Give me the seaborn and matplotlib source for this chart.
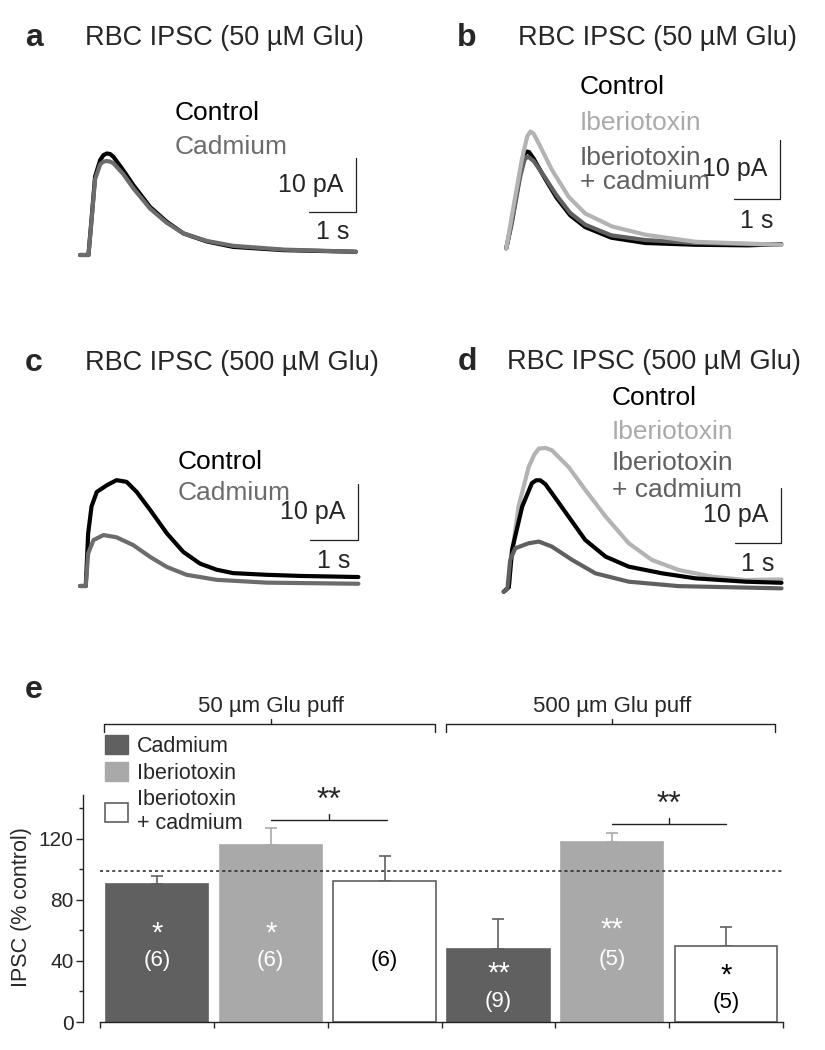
import numpy as np
import pandas as pd
import matplotlib.pyplot as plt
import seaborn as sns
from matplotlib.patches import Patch

sns.set_theme(style="white")
plt.rcParams["font.family"] = ["Liberation Sans", "DejaVu Sans"]

# traces (time in s, current in pA)
t_a = [0, 0.18, 0.25, 0.32, 0.43, 0.5, 0.57, 0.64, 0.71, 0.92, 1.13, 1.49, 1.84, 2.2, 2.7, 3.26, 4.33, 5.87]
a_control = [0, 0, 7.1, 14.5, 17.6, 18.5, 18.8, 18.7, 18.2, 15.7, 13.0, 8.9, 6.2, 4.0, 2.5, 1.5, 0.9, 0.6]
a_cadmium = [0, 0, 6.8, 14.0, 16.8, 17.3, 17.4, 17.3, 17.0, 15.0, 12.4, 8.6, 6.0, 4.0, 2.6, 1.7, 1.0, 0.6]

t_b = [0, 0.12, 0.3, 0.4, 0.45, 0.5, 0.6, 0.85, 1.1, 1.4, 1.73, 2.3, 3.05, 4.15, 5.3, 6.03]
b_control = [0, 4.5, 12.5, 15.9, 16.4, 16.3, 15.2, 11.8, 8.6, 5.6, 3.6, 1.8, 0.9, 0.6, 0.5, 0.7]
b_ibtx_cd = [0, 4.2, 12.0, 15.0, 15.5, 15.4, 14.8, 12.0, 9.0, 6.0, 4.0, 2.2, 1.4, 0.9, 0.7, 0.6]
t_b_ibtx = [0, 0.12, 0.34, 0.46, 0.53, 0.6, 0.71, 1.0, 1.37, 1.73, 2.32, 3.05, 4.15, 6.03]
b_ibtx = [0, 5.4, 15.0, 19.0, 19.8, 19.4, 17.8, 13.3, 8.7, 5.9, 3.7, 2.3, 1.1, 0.6]

t_c_control = [0, 0.12, 0.17, 0.24, 0.35, 0.56, 0.76, 0.97, 1.18, 1.46, 1.81, 2.15, 2.5, 2.85, 3.19, 3.89, 4.58, 5.8]
c_control = [0, 0, 9.4, 14.2, 16.8, 18.0, 18.9, 18.6, 16.8, 13.6, 9.4, 6.1, 4.0, 2.9, 2.3, 2.0, 1.8, 1.6]
t_c_cd = [0, 0.12, 0.17, 0.28, 0.49, 0.76, 1.11, 1.46, 1.81, 2.22, 2.85, 3.89, 5.8]
c_cadmium = [0, 0, 5.8, 8.2, 9.1, 8.7, 7.3, 5.2, 3.4, 2.0, 1.1, 0.6, 0.4]

t_d_ibtx = [0, 0.11, 0.18, 0.32, 0.54, 0.66, 0.76, 0.9, 1.04, 1.40, 1.76, 2.2, 2.7, 3.2, 3.78, 4.5, 5.22, 6.0]
d_ibtx = [0, 0.8, 6.9, 15.3, 22.4, 24.6, 25.7, 25.8, 25.4, 22.4, 18.3, 13.5, 8.7, 5.7, 3.9, 2.7, 2.1, 2.2]
t_d_control = [0, 0.11, 0.18, 0.4, 0.61, 0.7, 0.79, 0.9, 1.04, 1.40, 1.76, 2.2, 2.7, 3.42, 4.14, 5.22, 6.0]
d_control = [0, 0.8, 7.5, 15.3, 19.5, 20.0, 20.0, 19.3, 17.7, 13.5, 9.3, 6.3, 4.5, 3.3, 2.4, 1.8, 1.6]
t_d_cd = [0, 0.08, 0.14, 0.25, 0.54, 0.76, 1.04, 1.48, 1.98, 2.7, 3.78, 6.0]
d_ibtx_cd = [0, 0.5, 5.7, 7.8, 8.7, 9.0, 8.1, 5.7, 3.3, 1.8, 1.0, 0.6]

# summary bars (% of control)
bar_names = ["Cd 50", "IbTX 50", "IbTX+Cd 50", "Cd 500", "IbTX 500", "IbTX+Cd 500"]
ipsc_mean = [90.5, 116, 92.5, 48, 118, 49.5]
ipsc_sem = [5.2, 11, 16.5, 19.5, 6, 13]
n_cells = ["(6)", "(6)", "(6)", "(9)", "(5)", "(5)"]
stars = ["*", "*", "", "**", "**", "*"]

DARK = "#606060"
LIGHT = "#a9a9a9"
CD_TRACE = "#6c6c6c"

W, H = 825, 1050
fig = plt.figure(figsize=(W / 100, H / 100), dpi=100)


def fx(x):
    return x / W


def fy(y):
    return 1 - y / H


def trace_axes(left, top, width, height, t0, base, px_s, px_pa):
    ax = fig.add_axes([fx(left), fy(top + height), width / W, height / H])
    ax.set_xlim((left - t0) / px_s, (left + width - t0) / px_s)
    ax.set_ylim((base - (top + height)) / px_pa, (base - top) / px_pa)
    ax.axis("off")
    return ax


def scale_bar(ax, tc, yc):
    ax.plot([tc - 1, tc, tc], [yc, yc, yc + 10], color="#222222", lw=0.9, clip_on=False)
    ax.text(tc - 0.27, yc + 5, "10 pA", fontsize=18, ha="right", va="center")
    ax.text(tc - 0.5, yc - 3.7, "1 s", fontsize=18, ha="center", va="center")


def draw(ax, t, y, color):
    sns.lineplot(x=t, y=y, ax=ax, color=color, linewidth=3, sort=False)


# panel titles
for letter, lx, tx, ty, title in [("a", 25, 85, 38, "RBC IPSC (50 µM Glu)"),
                                  ("b", 457, 518, 38, "RBC IPSC (50 µM Glu)"),
                                  ("c", 25, 85, 363, "RBC IPSC (500 µM Glu)"),
                                  ("d", 458, 507, 362, "RBC IPSC (500 µM Glu)")]:
    fig.text(fx(lx), fy(ty), letter, fontsize=23, fontweight="bold", va="center")
    fig.text(fx(tx), fy(ty), title, fontsize=19.5, va="center")

# a
ax_a = trace_axes(60, 120, 320, 160, 80, 255, 47, 5.4)
draw(ax_a, t_a, a_control, "black")
draw(ax_a, t_a, a_cadmium, CD_TRACE)
scale_bar(ax_a, 5.87, 8.0)
fig.text(fx(175), fy(113), "Control", fontsize=19, color="black", va="center")
fig.text(fx(175), fy(147), "Cadmium", fontsize=19, color=CD_TRACE, va="center")

# b
ax_b = trace_axes(480, 100, 320, 170, 506.3, 248.3, 45.6, 5.9)
draw(ax_b, t_b, b_control, "black")
draw(ax_b, t_b, b_ibtx_cd, DARK)
draw(ax_b, t_b_ibtx, b_ibtx, "#b3b3b3")
scale_bar(ax_b, 6.0, 8.4)
fig.text(fx(580), fy(87), "Control", fontsize=19, color="black", va="center")
fig.text(fx(580), fy(123), "Iberiotoxin", fontsize=19, color="#aaaaaa", va="center")
fig.text(fx(580), fy(158), "Iberiotoxin", fontsize=19, color=DARK, va="center")
fig.text(fx(580), fy(182), "+ cadmium", fontsize=19, color=DARK, va="center")

# c
ax_c = trace_axes(60, 440, 320, 170, 80, 586, 48, 5.6)
draw(ax_c, t_c_control, c_control, "black")
draw(ax_c, t_c_cd, c_cadmium, CD_TRACE)
scale_bar(ax_c, 5.79, 8.2)
fig.text(fx(178), fy(462), "Control", fontsize=19, color="black", va="center")
fig.text(fx(178), fy(493), "Cadmium", fontsize=19, color=CD_TRACE, va="center")

# d
ax_d = trace_axes(480, 400, 320, 210, 503.7, 591.7, 46.3, 5.57)
draw(ax_d, t_d_ibtx, d_ibtx, "#b3b3b3")
draw(ax_d, t_d_control, d_control, "black")
draw(ax_d, t_d_cd, d_ibtx_cd, DARK)
scale_bar(ax_d, 5.99, 8.7)
fig.text(fx(612), fy(398), "Control", fontsize=19, color="black", va="center")
fig.text(fx(612), fy(432), "Iberiotoxin", fontsize=19, color="#aaaaaa", va="center")
fig.text(fx(612), fy(463), "Iberiotoxin", fontsize=19, color=DARK, va="center")
fig.text(fx(612), fy(490), "+ cadmium", fontsize=19, color=DARK, va="center")

# e: bar chart
ax_e = fig.add_axes([fx(100), fy(1022), 683 / W, 229 / H])
fills = [DARK, LIGHT, "white", DARK, LIGHT, "white"]
edges = [DARK, LIGHT, DARK, DARK, LIGHT, DARK]
df = pd.DataFrame({"cond": bar_names, "ipsc": ipsc_mean})
sns.barplot(data=df, x="cond", y="ipsc", hue="cond", palette=fills, saturation=1,
            width=0.9, legend=False, ax=ax_e, zorder=2)
for patch, ec in zip(ax_e.patches, edges):
    patch.set_edgecolor(ec)
    patch.set_linewidth(1.2)
for i in range(len(bar_names)):
    ax_e.errorbar(i, ipsc_mean[i], yerr=[[0], [ipsc_sem[i]]], color=edges[i],
                  capsize=4.5, elinewidth=1.2, capthick=1.2, zorder=1)

ax_e.axhline(99, color="#222222", lw=1.1, ls=(0, (2, 2)), zorder=3)

star_y = [58, 58, 0, 32, 60.5, 30.5]
n_y = [40, 40, 40, 13.5, 40.7, 13]
txt_col = ["white", "white", "black", "white", "white", "black"]
for i in range(len(bar_names)):
    if stars[i]:
        ax_e.text(i, star_y[i], stars[i], ha="center", va="center", fontsize=21,
                  color=txt_col[i], zorder=4)
    ax_e.text(i, n_y[i], n_cells[i], ha="center", va="center", fontsize=16,
              color=txt_col[i], zorder=4)

ax_e.set_xlim(-0.5, 5.5)
ax_e.set_ylim(0, 150)
ax_e.set_xticks(np.arange(-0.5, 6, 1))
ax_e.set_xticklabels([])
ax_e.set_yticks([0, 40, 80, 120])
ax_e.set_yticks([20, 60, 100, 140], minor=True)
ax_e.tick_params(axis="y", which="major", length=5, width=1, labelsize=15, pad=2, left=True)
ax_e.tick_params(axis="y", which="minor", length=3, width=1, left=True)
ax_e.tick_params(axis="x", length=4, width=1, bottom=True, direction="out")
ax_e.set_xlabel("")
ax_e.set_ylabel("IPSC (% control)", fontsize=15.5)
ax_e.yaxis.set_label_coords(-0.1, 0.5)
for s in ["top", "right"]:
    ax_e.spines[s].set_visible(False)
ax_e.spines["left"].set_position(("outward", 12))
ax_e.spines["left"].set_bounds(0, 149)
ax_e.spines["bottom"].set_bounds(-0.5, 5.5)
for s in ["left", "bottom"]:
    ax_e.spines[s].set_color("#222222")
    ax_e.spines[s].set_linewidth(1)

# group brackets
for x0, x1, xc, label in [(-0.465, 2.44, 1.0, "50 µm Glu puff"),
                          (2.54, 5.43, 4.0, "500 µm Glu puff")]:
    ax_e.plot([x0, x0, x1, x1], [190.2, 195.4, 195.4, 190.2], color="#222222", lw=1, clip_on=False)
    ax_e.plot([xc, xc], [195.4, 198.7], color="#222222", lw=1, clip_on=False)
    ax_e.text(xc, 206.6, label, ha="center", va="center", fontsize=16)

# significance lines
for x0, x1, yb, ys in [(1.0, 2.02, 132.5, 145), (4.0, 5.0, 129.8, 142)]:
    xm = (x0 + x1) / 2
    ax_e.plot([x0, x1], [yb, yb], color="#222222", lw=1, clip_on=False)
    ax_e.plot([xm, xm], [yb, yb + 3.8], color="#222222", lw=1, clip_on=False)
    ax_e.text(xm, ys, "**", ha="center", va="center", fontsize=23, clip_on=False)

handles = [Patch(facecolor=DARK, edgecolor=DARK),
           Patch(facecolor=LIGHT, edgecolor=LIGHT),
           Patch(facecolor="white", edgecolor=DARK, linewidth=1.2)]
ax_e.legend(handles, ["Cadmium", "Iberiotoxin", "Iberiotoxin\n+ cadmium"],
            loc="upper left", bbox_to_anchor=(fx(105), fy(735)), bbox_transform=fig.transFigure,
            frameon=False, fontsize=15.5, handlelength=1.05, handleheight=0.95,
            handletextpad=0.45, labelspacing=0.25, borderpad=0, borderaxespad=0)

fig.text(fx(25), fy(690), "e", fontsize=23, fontweight="bold", va="center")

fig.savefig("out.png", dpi=100)
